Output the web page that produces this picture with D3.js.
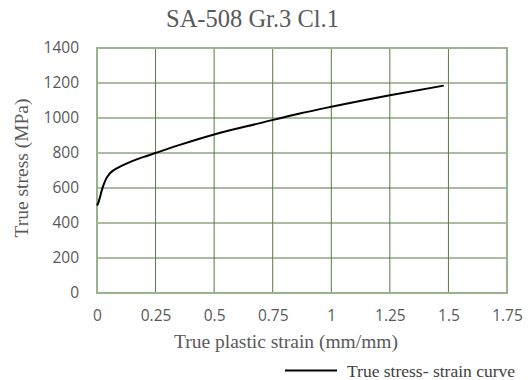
<!DOCTYPE html>
<html>
<head>
<meta charset="utf-8">
<script src="https://cdn.jsdelivr.net/npm/d3@7"></script>
<style>
  body { margin: 0; background: #fff; }
  svg { display: block; }
</style>
</head>
<body>
<svg id="chart" width="532" height="380"></svg>
<script>
// values
const strain = [0, 0.005, 0.01, 0.02, 0.03, 0.04, 0.05, 0.06, 0.08, 0.1, 0.15, 0.2, 0.25, 0.35, 0.5, 0.7, 0.87, 1.0, 1.25, 1.48];
const stress = [500, 513, 535, 585, 625, 655, 675, 690, 709, 723, 754, 778, 800, 845, 906, 972, 1027, 1064, 1130, 1185];
const xTicks = [0, 0.25, 0.5, 0.75, 1, 1.25, 1.5, 1.75];
const yTicks = [0, 200, 400, 600, 800, 1000, 1200, 1400];
const title = 'SA-508 Gr.3 Cl.1';
const xTitle = 'True plastic strain (mm/mm)';
const yTitle = 'True stress (MPa)';
const seriesName = 'True stress- strain curve';

const margin = { top: 48, right: 25, bottom: 87, left: 97 };
const width = 532 - margin.left - margin.right;
const height = 380 - margin.top - margin.bottom;

const svg = d3.select('#chart');
const g = svg.append('g').attr('transform', `translate(${margin.left},${margin.top})`);

const x = d3.scaleLinear().domain([0, 1.75]).range([0, width]);
const y = d3.scaleLinear().domain([0, 1400]).range([height, 0]);

const gridColor = '#557a42';
const tickFont = '"Open Sans", "Liberation Sans", sans-serif';
const serif = '"Liberation Serif", "Times New Roman", serif';

// grid
g.append('g')
  .selectAll('line')
  .data(xTicks)
  .join('line')
  .attr('x1', d => x(d)).attr('x2', d => x(d))
  .attr('y1', 0).attr('y2', height)
  .attr('stroke', gridColor).attr('stroke-width', 1);

g.append('g')
  .selectAll('line')
  .data(yTicks)
  .join('line')
  .attr('x1', 0).attr('x2', width)
  .attr('y1', d => y(d)).attr('y2', d => y(d))
  .attr('stroke', gridColor).attr('stroke-width', 1);

// outer border, a bit lighter
g.append('rect')
  .attr('x', 0).attr('y', 0)
  .attr('width', width).attr('height', height)
  .attr('fill', 'none')
  .attr('stroke', '#9ab38a')
  .attr('stroke-width', 2);

// axes (labels only)
const xAxis = g.append('g')
  .attr('transform', `translate(0,${height})`)
  .call(d3.axisBottom(x).tickValues(xTicks).tickSize(0).tickPadding(17).tickFormat(d => String(d)));
const yAxis = g.append('g')
  .call(d3.axisLeft(y).tickValues(yTicks).tickSize(0).tickPadding(18).tickFormat(d3.format('d')));

[xAxis, yAxis].forEach(a => {
  a.select('.domain').remove();
  a.selectAll('text')
    .attr('fill', '#595959')
    .style('font-family', tickFont)
    .style('font-size', '15.5px');
});

// curve
const line = d3.line()
  .x((d, i) => x(strain[i]))
  .y(d => y(d))
  .curve(d3.curveMonotoneX);

g.append('path')
  .datum(stress)
  .attr('d', line)
  .attr('fill', 'none')
  .attr('stroke', '#000')
  .attr('stroke-width', 2);

// titles
svg.append('text')
  .attr('x', 252.5).attr('y', 27)
  .attr('text-anchor', 'middle')
  .attr('fill', '#595959')
  .style('font-family', serif)
  .style('font-size', '24.5px')
  .text(title);

svg.append('text')
  .attr('x', 286).attr('y', 348)
  .attr('text-anchor', 'middle')
  .attr('fill', '#595959')
  .style('font-family', serif)
  .style('font-size', '19.5px')
  .text(xTitle);

svg.append('text')
  .attr('transform', 'translate(28,168) rotate(-90)')
  .attr('text-anchor', 'middle')
  .attr('fill', '#595959')
  .style('font-family', serif)
  .style('font-size', '19.5px')
  .text(yTitle);

// legend
const legend = svg.append('g').attr('transform', 'translate(285,370.5)');
legend.append('line')
  .attr('x1', 0).attr('x2', 52)
  .attr('y1', 0).attr('y2', 0)
  .attr('stroke', '#000').attr('stroke-width', 2);
legend.append('text')
  .attr('x', 62).attr('y', 6)
  .attr('fill', '#404040')
  .style('font-family', serif)
  .style('font-size', '17.5px')
  .text(seriesName);
</script>
</body>
</html>
